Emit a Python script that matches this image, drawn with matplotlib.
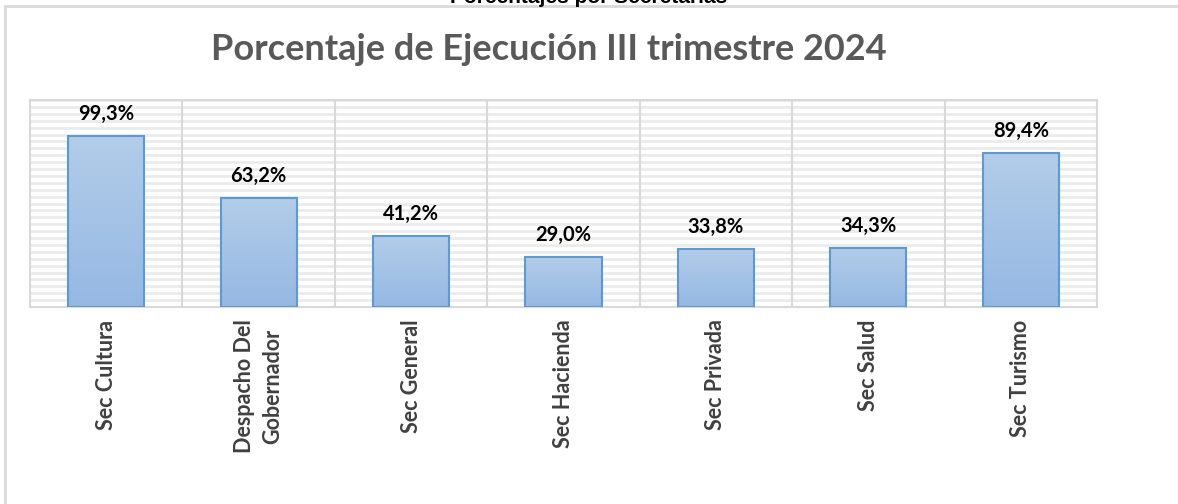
import numpy as np
import matplotlib
matplotlib.use('Agg')
from matplotlib import pyplot as plt
from matplotlib.patches import Rectangle
from matplotlib.ticker import MultipleLocator

###data
categories = ['Sec Cultura', 'Despacho Del\nGobernador', 'Sec General', 'Sec Hacienda',
              'Sec Privada', 'Sec Salud', 'Sec Turismo']
values = [99.3, 63.2, 41.2, 29.0, 33.8, 34.3, 89.4]
value_labels = ['99,3%', '63,2%', '41,2%', '29,0%', '33,8%', '34,3%', '89,4%']

plt.rcParams['font.family'] = ['Lato', 'DejaVu Sans']

fig = plt.figure(figsize=(11.78, 5.04), dpi=100)
ax = fig.add_axes([30/1178, 1-307/504, 1067/1178, 207/504])

###outer chart frame and cut-off caption at the very top
fig.patches.append(Rectangle((5/1178, -0.02), 1.05, 1-6/504+0.02, transform=fig.transFigure,
                             fill=False, edgecolor='#d9d9d9', lw=2))
fig.text(0.5, 1-3/504, 'Porcentajes por Secretarias', ha='center', va='baseline',
         fontsize=15, fontweight='bold', family=['Liberation Sans', 'DejaVu Sans'])

x = np.arange(len(categories))

###horizontal grid lines and category separators
ax.yaxis.set_major_locator(MultipleLocator(4))
ax.grid(axis='y', color='#ebebeb', lw=2)
for sep in np.arange(0.5, len(categories)-0.5, 1):
    ax.axvline(sep, color='#d9d9d9', lw=1.5, zorder=1)
ax.set_axisbelow(True)

###bars with vertical gradient
grad = np.linspace(0, 1, 256).reshape(-1, 1)
cmap = matplotlib.colors.LinearSegmentedColormap.from_list('bl', ['#95b8e3', '#b3cde9'])
bars = ax.bar(x, values, width=0.5, color='none', edgecolor='#5b9bd5', lw=1.5, zorder=3)
for b in bars:
    im = ax.imshow(grad, cmap=cmap, aspect='auto', origin='lower',
                   extent=[b.get_x(), b.get_x()+b.get_width(), 0, b.get_height()], zorder=2)
    im.set_clip_path(b)
ax.set_xlim(-0.5, len(categories)-0.5)
ax.set_ylim(0, 120)

for xi, v, lab in zip(x, values, value_labels):
    ax.text(xi, v+7, lab, ha='center', va='bottom', fontsize=14.5, fontweight='bold', color='black')

ax.set_xticks(x)
ax.set_xticklabels(categories, rotation=90, fontsize=15.5, fontweight='bold', color='#404040',
                   va='top', ha='center', multialignment='center', linespacing=1.45)
ax.tick_params(axis='x', length=0, pad=9)
ax.tick_params(axis='y', left=False, labelleft=False)
for s in ax.spines.values():
    s.set_color('#d9d9d9')
    s.set_linewidth(1.5)

fig.text(549/1178, 1-50/504, 'Porcentaje de Ejecución III trimestre 2024', ha='center', va='center',
         fontsize=26, fontweight='bold', color='#595959')

plt.savefig('out.png', dpi=100)
plt.close()
